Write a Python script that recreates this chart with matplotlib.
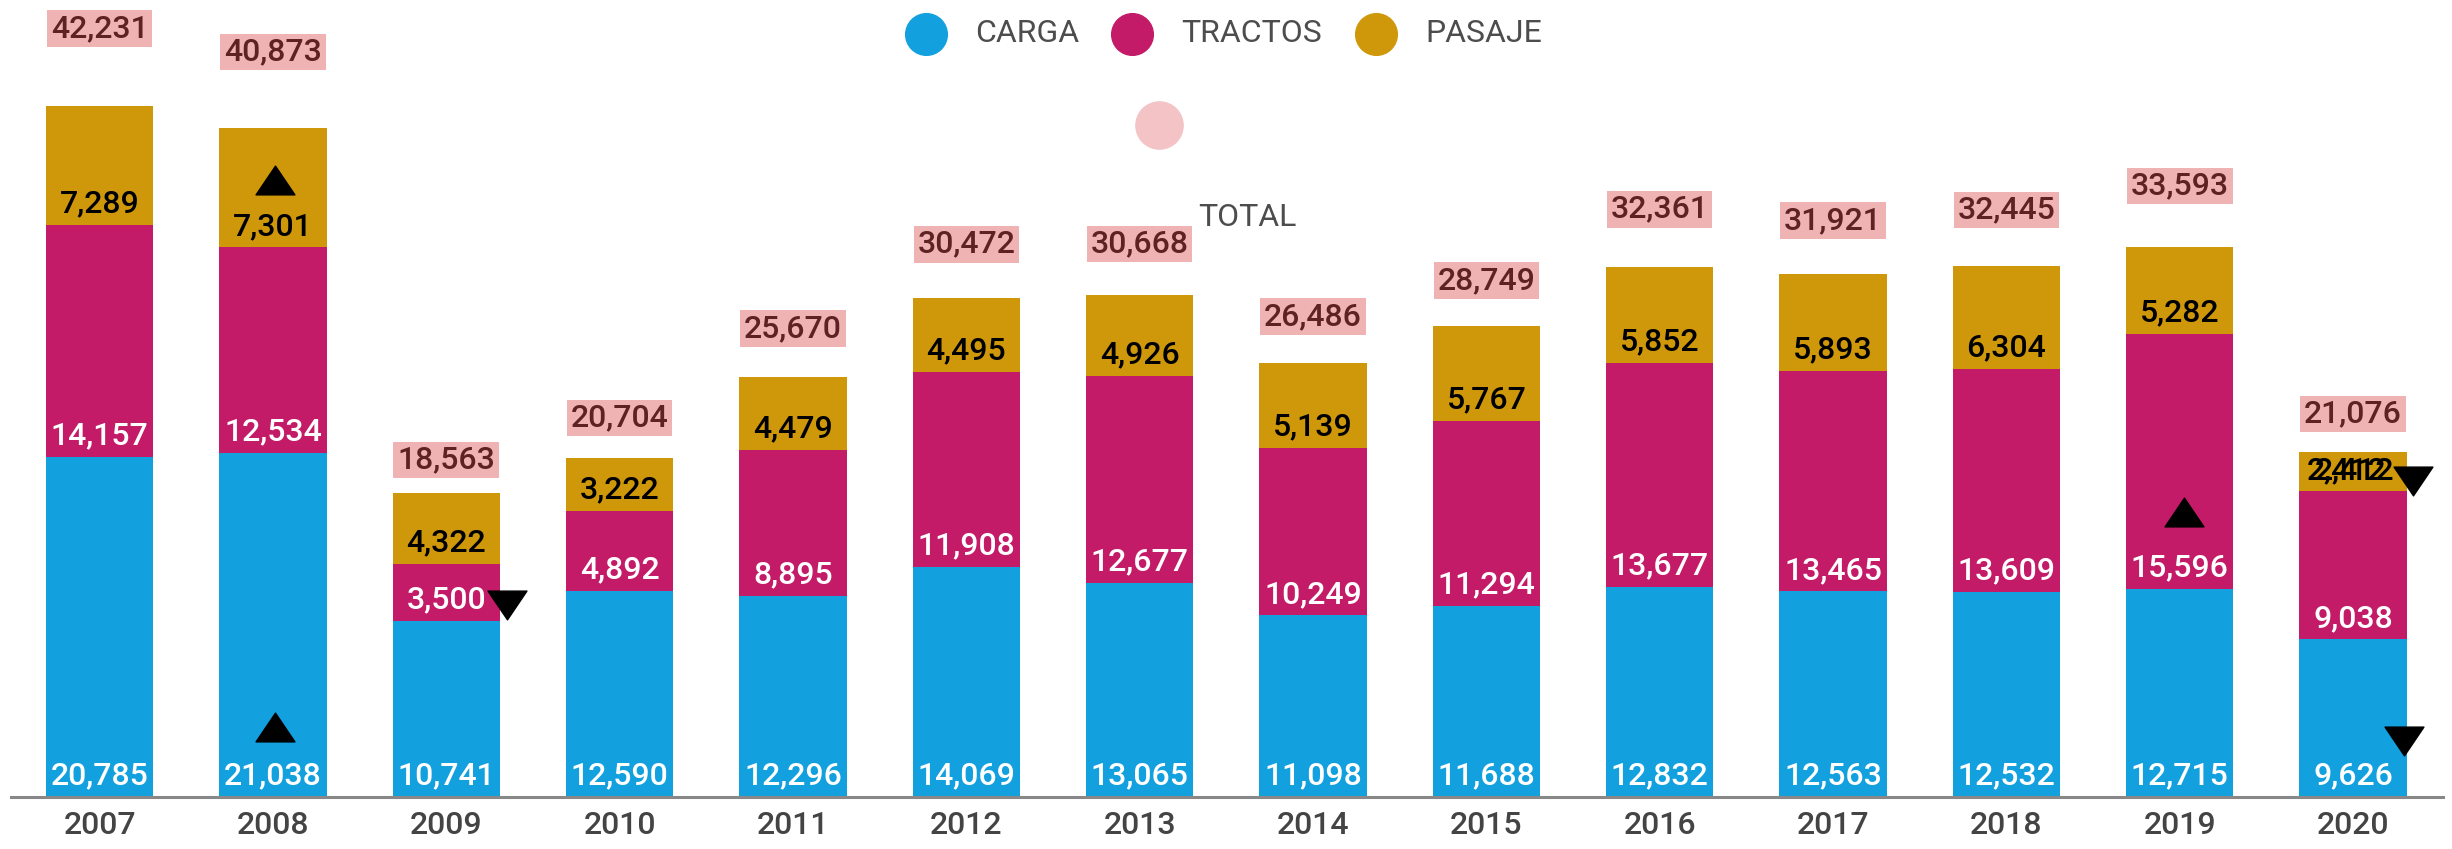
import matplotlib
matplotlib.use("Agg")
import matplotlib.pyplot as plt
from matplotlib.path import Path
from matplotlib.transforms import offset_copy
import numpy as np

plt.rcParams['font.family'] = ['Roboto', 'DejaVu Sans']

# ---------- data ----------
years = ["2007", "2008", "2009", "2010", "2011", "2012", "2013",
         "2014", "2015", "2016", "2017", "2018", "2019", "2020"]
carga = [20785, 21038, 10741, 12590, 12296, 14069, 13065,
         11098, 11688, 12832, 12563, 12532, 12715, 9626]
tractos = [14157, 12534, 3500, 4892, 8895, 11908, 12677,
           10249, 11294, 13677, 13465, 13609, 15596, 9038]
pasaje = [7289, 7301, 4322, 3222, 4479, 4495, 4926,
          5139, 5767, 5852, 5893, 6304, 5282, 2412]
series_names = ["CARGA", "TRACTOS", "PASAJE"]

# trend arrows shown in the original (year, series, direction)
trend_marks = [("2008", "PASAJE", "up"), ("2008", "CARGA", "up"),
               ("2009", "TRACTOS", "down"), ("2019", "TRACTOS", "up"),
               ("2020", "PASAJE", "down"), ("2020", "CARGA", "down")]

# ---------- styling ----------
colors = {"CARGA": "#12a0de", "TRACTOS": "#c31b67", "PASAJE": "#cf980a"}
label_colors = {"CARGA": "white", "TRACTOS": "white", "PASAJE": "black"}
total_box = "#f0b3b3"
total_text = "#5e2222"
legend_text = "#4d4d4d"
# pixel gap of total label above each bar (the source layout moved them around)
total_pad = [77, 76, 33, 40, 48, 54, 51, 47, 46, 58, 54, 56, 61, 38]
# pixel offsets (dx, dy above segment bottom) of the trend arrows
mark_offsets = [(2, 67), (2, 70), (61, 16), (4, 77), (60, 10), (51, 56)]

W, H = 2452, 849
fig = plt.figure(figsize=(W / 100, H / 100), dpi=100)
ax = fig.add_axes([11 / W, 52 / H, 2432 / W, 797 / H])
ax.set_xlim(-0.511, 13.519)
ax.set_ylim(0, 48686)

x = np.arange(len(years))
values = {"CARGA": carga, "TRACTOS": tractos, "PASAJE": pasaje}
bottoms = {}
base = np.zeros(len(years))
for name in series_names:
    v = np.array(values[name])
    ax.bar(x, v, bottom=base, width=0.62, color=colors[name], linewidth=0)
    bottoms[name] = base.copy()
    for i in range(len(years)):
        shifts = (-7, 1) if (name == "PASAJE" and years[i] == "2020") else (0,)
        # the original shows the 2020 PASAJE label drawn twice, slightly shifted
        for dx in shifts:
            ax.annotate(f"{v[i]:,}", (x[i], base[i]), xytext=(dx, 21),
                        textcoords="offset pixels", ha="center", va="center",
                        fontsize=23, fontweight="medium", color=label_colors[name])
    base = base + v

totals = base
for i, t in enumerate(totals):
    ax.annotate(f"{int(t):,}", (x[i], t), xytext=(0, total_pad[i]),
                textcoords="offset pixels", ha="center", va="center",
                fontsize=23, fontweight="medium", color=total_text,
                bbox=dict(boxstyle="square,pad=0.12", fc=total_box, ec="none"))

# trend arrows (flattened triangles)
tri_up = Path([(-1, -0.74), (1, -0.74), (0, 0.74), (-1, -0.74)],
              [Path.MOVETO, Path.LINETO, Path.LINETO, Path.CLOSEPOLY])
tri_down = Path([(-1, 0.74), (1, 0.74), (0, -0.74), (-1, 0.74)],
                [Path.MOVETO, Path.LINETO, Path.LINETO, Path.CLOSEPOLY])
for (yr, name, direction), (dx, dy) in zip(trend_marks, mark_offsets):
    i = years.index(yr)
    tr = offset_copy(ax.transData, fig=fig, x=dx, y=dy, units="dots")
    ax.plot([x[i]], [bottoms[name][i]],
            marker=tri_up if direction == "up" else tri_down,
            markersize=28, color="black", linestyle="none",
            transform=tr, clip_on=False)

ax.set_xticks(x)
ax.set_xticklabels(years, fontsize=23, color="#444444", fontweight="medium")
ax.tick_params(axis="x", length=0, pad=10)
ax.set_yticks([])
for s in ["top", "left", "right"]:
    ax.spines[s].set_visible(False)
ax.spines["bottom"].set_color("#888888")
ax.spines["bottom"].set_linewidth(2.2)

# ---------- legend (drawn by hand, like the original layout) ----------
def fig_xy(px, py):
    return px / W, 1 - py / H

legend_pos = [(926, 975), (1132, 1181), (1376, 1425)]
for name, (cx, tx) in zip(series_names, legend_pos):
    fx, fy = fig_xy(cx, 34)
    fig.lines.append(plt.Line2D([fx], [fy], marker="o", markersize=30,
                                color=colors[name], linestyle="none",
                                transform=fig.transFigure))
    fig.text(*fig_xy(tx, 34), name, fontsize=23, color=legend_text,
             ha="left", va="center")

fx, fy = fig_xy(1159, 125)
fig.lines.append(plt.Line2D([fx], [fy], marker="o", markersize=34,
                            color="#f4c3c5", linestyle="none",
                            transform=fig.transFigure))
fig.text(*fig_xy(1198, 218), "TOTAL", fontsize=23, color=legend_text,
         ha="left", va="center")

fig.savefig("out.png", dpi=100)
